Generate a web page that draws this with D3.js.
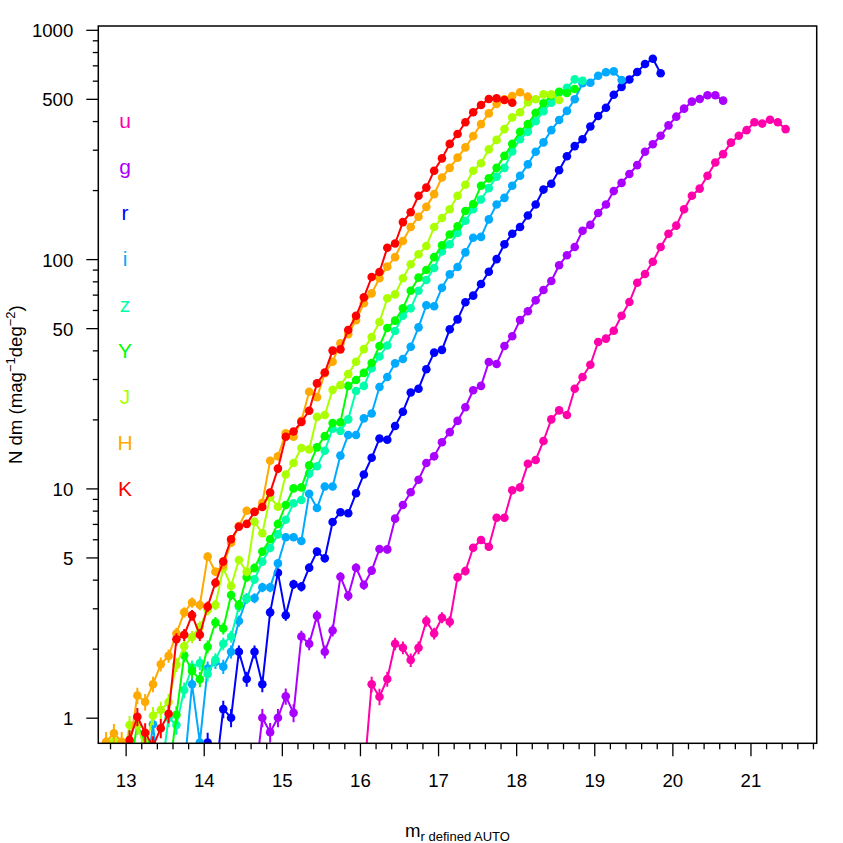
<!DOCTYPE html>
<html><head><meta charset="utf-8">
<script src="https://cdn.jsdelivr.net/npm/d3@7"></script>
<style>html,body{margin:0;padding:0;background:#fff;} svg{display:block;font-family:"Liberation Sans",Arial,Helvetica,sans-serif;}</style>
</head><body><svg id="c" width="843" height="843"></svg>
<script>
// ---------------- data ----------------
const bands = ["u","g","r","i","z","Y","J","H","K"];
const bandColors = ["#FF00AA","#AA00FF","#0000FF","#00AAFF","#00FFAA","#00FF00","#AAFF00","#FFAA00","#FF0000"];

// [magnitude bin centre, N dm (mag^-1 deg^-2)]
const uData = [[16.05,0.55],[16.15,1.40],[16.25,1.235],[16.35,1.475],[16.45,2.10],[16.55,2.02],[16.65,1.785],[16.75,2.02],[16.85,2.64],[16.95,2.33],[17.05,2.73],[17.15,2.62],[17.25,4.10],[17.35,4.36],[17.45,5.51],[17.55,5.96],[17.65,5.57],[17.75,7.45],[17.85,7.45],[17.95,9.81],[18.05,10.1],[18.15,12.8],[18.25,13.3],[18.35,16.1],[18.45,20.0],[18.55,21.9],[18.65,20.9],[18.75,27.2],[18.85,30.6],[18.95,34.6],[19.05,43.5],[19.15,45.0],[19.25,48.7],[19.35,56.6],[19.45,65.0],[19.55,78.9],[19.65,86.1],[19.75,97.4],[19.85,113],[19.95,129],[20.05,140],[20.15,165],[20.25,189],[20.35,203],[20.45,231],[20.55,264],[20.65,287],[20.75,322],[20.85,345],[20.95,365],[21.05,395],[21.15,390],[21.25,405],[21.35,395],[21.45,369]];
const gData = [[14.65,0.51],[14.75,1.0],[14.85,0.864],[14.95,1.0],[15.05,1.24],[15.15,1.05],[15.25,2.26],[15.35,2.10],[15.45,2.78],[15.55,1.94],[15.65,2.40],[15.75,4.12],[15.85,3.40],[15.95,4.51],[16.05,3.79],[16.15,4.38],[16.25,5.44],[16.35,5.42],[16.45,7.38],[16.55,8.47],[16.65,9.62],[16.75,10.9],[16.85,12.9],[16.95,13.8],[17.05,15.9],[17.15,17.6],[17.25,19.7],[17.35,22.6],[17.45,26.8],[17.55,28.0],[17.65,35.6],[17.75,34.9],[17.85,41.8],[17.95,46.1],[18.05,54.2],[18.15,59.2],[18.25,66.1],[18.35,73.3],[18.45,80.3],[18.55,94.0],[18.65,104],[18.75,113],[18.85,133],[18.95,141],[19.05,159],[19.15,173],[19.25,198],[19.35,215],[19.45,235],[19.55,257],[19.65,294],[19.75,317],[19.85,345],[19.95,383],[20.05,418],[20.15,453],[20.25,486],[20.35,499],[20.45,518],[20.55,518],[20.65,491]];
const rData = [[13.95,0.45],[14.05,0.78],[14.15,0.56],[14.25,1.09],[14.35,1.0],[14.45,1.94],[14.55,1.475],[14.65,1.94],[14.75,1.40],[14.85,2.88],[14.95,4.29],[15.05,2.80],[15.15,3.82],[15.25,3.73],[15.35,4.51],[15.45,5.30],[15.55,4.96],[15.65,7.14],[15.75,7.87],[15.85,7.79],[15.95,9.52],[16.05,11.5],[16.15,13.6],[16.25,16.5],[16.35,16.3],[16.45,18.7],[16.55,21.6],[16.65,26.2],[16.75,27.2],[16.85,33.1],[16.95,39.1],[17.05,40.2],[17.15,49.4],[17.25,54.6],[17.35,64.8],[17.45,69.3],[17.55,77.9],[17.65,88.1],[17.75,100],[17.85,116],[17.95,129],[18.05,138],[18.15,155],[18.25,173],[18.35,201],[18.45,213],[18.55,244],[18.65,281],[18.75,311],[18.85,333],[18.95,379],[19.05,421],[19.15,457],[19.25,521],[19.35,564],[19.45,607],[19.55,655],[19.65,709],[19.75,748],[19.85,646]];
const iData = [[13.25,0.5],[13.35,0.936],[13.45,0.45],[13.55,0.35],[13.65,0.35],[13.75,0.59],[13.85,1.40],[13.95,0.78],[14.05,1.64],[14.15,1.75],[14.25,1.67],[14.35,1.94],[14.45,2.64],[14.55,3.32],[14.65,3.32],[14.75,3.70],[14.85,3.70],[14.95,4.71],[15.05,6.12],[15.15,6.12],[15.25,5.90],[15.35,9.48],[15.45,8.21],[15.55,10.2],[15.65,10.2],[15.75,13.9],[15.85,17.1],[15.95,17.1],[16.05,20.2],[16.15,21.2],[16.25,27.7],[16.35,30.6],[16.45,35.1],[16.55,36.7],[16.65,41.5],[16.75,50.4],[16.85,62.9],[16.95,62.3],[17.05,75.0],[17.15,85.8],[17.25,92.4],[17.35,107],[17.45,124],[17.55,125],[17.65,149],[17.75,173],[17.85,185],[17.95,209],[18.05,231],[18.15,259],[18.25,294],[18.35,323],[18.45,365],[18.55,404],[18.65,443],[18.75,498],[18.85,585],[18.95,588],[19.05,630],[19.15,653],[19.25,659],[19.35,604]];
const zData = [[13.45,0.55],[13.55,1.0],[13.65,0.93],[13.75,1.32],[13.85,1.66],[13.95,1.73],[14.05,1.55],[14.15,1.79],[14.25,2.1],[14.35,2.26],[14.45,3.05],[14.55,3.3],[14.65,4.01],[14.75,4.79],[14.85,5.5],[14.95,6.3],[15.05,7.3],[15.15,8.61],[15.25,8.90],[15.35,11.6],[15.45,12.5],[15.55,14.6],[15.65,18.2],[15.75,17.8],[15.85,20.0],[15.95,26.6],[16.05,28.0],[16.15,33.4],[16.25,37.6],[16.35,42.0],[16.45,48.6],[16.55,56.6],[16.65,61.0],[16.75,72.8],[16.85,81.1],[16.95,91.5],[17.05,108],[17.15,116],[17.25,130],[17.35,147],[17.45,165],[17.55,182],[17.65,204],[17.75,229],[17.85,250],[17.95,295],[18.05,333],[18.15,359],[18.25,399],[18.35,442],[18.45,481],[18.55,532],[18.65,559],[18.75,608],[18.85,600]];
const YData = [[13.05,0.6],[13.15,0.93],[13.25,0.78],[13.35,0.55],[13.45,0.45],[13.55,0.55],[13.65,1.03],[13.75,1.87],[13.85,1.6],[13.95,1.47],[14.05,2.04],[14.15,2.6],[14.25,2.45],[14.35,3.43],[14.45,3.1],[14.55,4.1],[14.65,4.5],[14.75,5.3],[14.85,6.0],[14.95,7.0],[15.05,8.47],[15.15,10.0],[15.25,10.1],[15.35,12.6],[15.45,15.1],[15.55,16.9],[15.65,19.3],[15.75,19.4],[15.85,28.0],[15.95,29.7],[16.05,31.9],[16.15,35.2],[16.25,41.8],[16.35,50.1],[16.45,53.9],[16.55,61.0],[16.65,72.8],[16.75,83.0],[16.85,89.6],[16.95,102],[17.05,115],[17.15,128],[17.25,139],[17.35,162],[17.45,174],[17.55,209],[17.65,225],[17.75,250],[17.85,282],[17.95,318],[18.05,359],[18.15,388],[18.25,435],[18.35,478],[18.45,517],[18.55,536],[18.65,530],[18.75,552]];
const JData = [[12.85,0.79],[12.95,0.6],[13.05,0.93],[13.15,0.93],[13.25,0.72],[13.35,1.02],[13.45,1.08],[13.55,1.17],[13.65,1.70],[13.75,2.05],[13.85,2.25],[13.95,2.49],[14.05,2.95],[14.15,3.10],[14.25,4.5],[14.35,3.75],[14.45,4.87],[14.55,4.33],[14.65,7.16],[14.75,6.37],[14.85,9.15],[14.95,8.32],[15.05,11.5],[15.15,12.9],[15.25,15.0],[15.35,14.8],[15.45,20.5],[15.55,20.9],[15.65,26.9],[15.75,28.2],[15.85,31.5],[15.95,35.7],[16.05,40.5],[16.15,45.7],[16.25,53.2],[16.35,67.5],[16.45,70.2],[16.55,82.5],[16.65,94.9],[16.75,105],[16.85,114],[16.95,138],[17.05,151],[17.15,165],[17.25,189],[17.35,211],[17.45,243],[17.55,262],[17.65,301],[17.75,331],[17.85,369],[17.95,415],[18.05,437],[18.15,483],[18.25,498],[18.35,523],[18.45,523],[18.55,494]];
const HData = [[12.75,0.786],[12.85,0.855],[12.95,0.786],[13.05,0.74],[13.15,1.25],[13.25,1.17],[13.35,1.40],[13.45,1.71],[13.55,1.86],[13.65,2.33],[13.75,2.88],[13.85,3.18],[13.95,3.10],[14.05,5.04],[14.15,4.33],[14.25,4.63],[14.35,5.80],[14.45,6.86],[14.55,7.99],[14.65,7.91],[14.75,8.66],[14.85,13.2],[14.95,13.8],[15.05,17.4],[15.15,16.8],[15.25,19.7],[15.35,26.4],[15.45,25.0],[15.55,31.8],[15.65,35.7],[15.75,42.9],[15.85,47.0],[15.95,54.2],[16.05,64.2],[16.15,70.9],[16.25,82.5],[16.35,92.7],[16.45,102],[16.55,120],[16.65,138],[16.75,153],[16.85,169],[16.95,192],[17.05,227],[17.15,250],[17.25,277],[17.35,307],[17.45,344],[17.55,388],[17.65,432],[17.75,475],[17.85,498],[17.95,514],[18.05,534],[18.15,511]];
const KData = [[13.05,0.8],[13.15,1.01],[13.25,0.86],[13.35,0.75],[13.45,0.9],[13.55,1.04],[13.65,2.2],[13.75,2.3],[13.85,2.8],[13.95,2.3],[14.05,3.05],[14.15,3.88],[14.25,4.8],[14.35,6.0],[14.45,6.8],[14.55,7.0],[14.65,7.9],[14.75,8.3],[14.85,9.6],[14.95,12.2],[15.05,16.8],[15.15,17.7],[15.25,19.5],[15.35,21.8],[15.45,28.7],[15.55,32.0],[15.65,39.9],[15.75,40.4],[15.85,49.1],[15.95,56.6],[16.05,68.1],[16.15,83.5],[16.25,87.8],[16.35,112],[16.45,117],[16.55,145],[16.65,160],[16.75,189],[16.85,205],[16.95,243],[17.05,275],[17.15,318],[17.25,351],[17.35,395],[17.45,437],[17.55,470],[17.65,499],[17.75,503],[17.85,494],[17.95,481]];
const seriesData = [uData,gData,rData,iData,zData,YData,JData,HData,KData];

const xTickLabels = [13,14,15,16,17,18,19,20,21];
const yTickLabels = [1,5,10,50,100,500,1000];
const yMinorTicks = [2,3,4,6,7,8,9,20,30,40,60,70,80,90,200,300,400,600,700,800,900];
const xMinorTicks = d3.range(12.8, 21.81, 0.2).filter(v => Math.abs(v - Math.round(v)) > 0.01);
const effectiveCounts = 120; // counts per unit N dm, used for Poisson error bars

// ---------------- layout ----------------
const L = 98.3, R = 816.7, T = 26, B = 743.3;
const svg = d3.select("#c");
const x = d3.scaleLinear().domain([12.65, 21.848]).range([L, R]);
const y = d3.scaleLog().domain([0.7733, 1039]).range([B, T]);

svg.append("defs").append("clipPath").attr("id","plotclip")
  .append("rect").attr("x",L).attr("y",T).attr("width",R-L).attr("height",B-T);

const plot = svg.append("g").attr("clip-path","url(#plotclip)");
const line = d3.line().x(d => x(d[0])).y(d => y(d[1]));

seriesData.forEach((data, k) => {
  const col = bandColors[k];
  const g = plot.append("g");
  g.append("path").datum(data).attr("d", line).attr("fill","none")
    .attr("stroke", col).attr("stroke-width", 2).attr("stroke-linejoin","round");
  g.selectAll("line.eb").data(data).join("line").attr("class","eb")
    .attr("x1", d => x(d[0])).attr("x2", d => x(d[0]))
    .attr("y1", d => y(d[1] + Math.sqrt(d[1] / effectiveCounts)))
    .attr("y2", d => y(Math.max(0.01, d[1] - Math.sqrt(d[1] / effectiveCounts))))
    .attr("stroke", col).attr("stroke-width", 2);
  g.selectAll("circle").data(data).join("circle")
    .attr("cx", d => x(d[0])).attr("cy", d => y(d[1])).attr("r", 4.3).attr("fill", col);
});

// axes
const fontSize = 18.6;
const yAx = svg.append("g").attr("transform", `translate(${L},0)`)
  .call(d3.axisLeft(y).tickValues(yTickLabels).tickFormat(d3.format("d")).tickSize(12).tickPadding(13));
const yAxMinor = svg.append("g").attr("transform", `translate(${L},0)`)
  .call(d3.axisLeft(y).tickValues(yMinorTicks).tickFormat("").tickSize(5.5));
const xAx = svg.append("g").attr("transform", `translate(0,${B})`)
  .call(d3.axisBottom(x).tickValues(xTickLabels).tickFormat(d3.format("d")).tickSize(13).tickPadding(17.5));
const xAxMinor = svg.append("g").attr("transform", `translate(0,${B})`)
  .call(d3.axisBottom(x).tickValues(xMinorTicks).tickFormat("").tickSize(6));
[yAx, yAxMinor, xAx, xAxMinor].forEach(a => {
  a.select(".domain").remove();
  a.selectAll(".tick line").attr("stroke","#000").attr("stroke-width",1.3);
  a.selectAll(".tick text").attr("fill","#000").style("font-size", fontSize + "px")
    .style("font-family", '"Liberation Sans",Arial,Helvetica,sans-serif');
});
yAx.selectAll(".tick text").attr("dy","0.38em");

// box
svg.append("rect").attr("x",L).attr("y",T).attr("width",R-L).attr("height",B-T)
  .attr("fill","none").attr("stroke","#000").attr("stroke-width",1.5);

// legend letters
svg.append("g").selectAll("text").data(bands).join("text")
  .attr("x", 125).attr("y", (d, i) => 128 + i * 46)
  .attr("text-anchor","middle").attr("fill", (d, i) => bandColors[i])
  .style("font-size","21px").text(d => d);

// x title
const xt = svg.append("text").attr("x", (L+R)/2).attr("y", 837).attr("text-anchor","middle").attr("fill","#000");
xt.append("tspan").style("font-size", fontSize + "px").text("m");
xt.append("tspan").style("font-size","13px").attr("dy", 4).text("r defined AUTO");

// y title
const yt = svg.append("text").attr("transform", `translate(22,${(T+B)/2}) rotate(-90)`)
  .attr("text-anchor","middle").attr("fill","#000").style("font-size", fontSize + "px");
yt.append("tspan").text("N dm (mag");
yt.append("tspan").style("font-size","13px").attr("dy",-7).text("\u22121");
yt.append("tspan").attr("dy",7).text("deg");
yt.append("tspan").style("font-size","13px").attr("dy",-7).text("\u22122");
yt.append("tspan").attr("dy",7).text(")");
</script></body></html>
